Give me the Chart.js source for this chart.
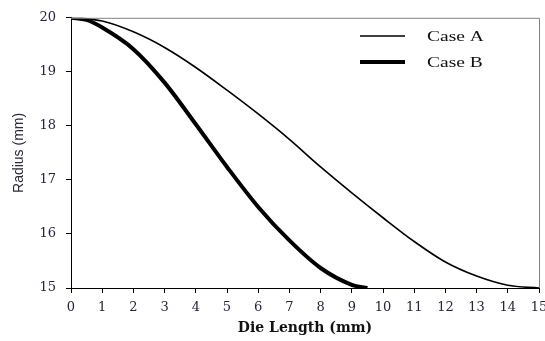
<!DOCTYPE html>
<html>
<head>
<meta charset="utf-8">
<script src="https://cdn.jsdelivr.net/npm/chart.js@4"></script>
<style>
  html, body { margin: 0; padding: 0; background: #fff; }
  #wrap { width: 545px; height: 341px; }
</style>
</head>
<body>
<div id="wrap"><canvas id="dieChart" width="545" height="341"></canvas></div>
<script>
// Values
const caseAX = [0, 1, 2, 3, 4, 5, 6, 7, 8, 9, 10, 11, 12, 13, 14, 15];
const caseAY = [20, 19.94, 19.74, 19.45, 19.08, 18.66, 18.22, 17.75, 17.24, 16.76, 16.3, 15.86, 15.48, 15.22, 15.05, 15.0];
const caseBX = [0, 0.5, 1, 2, 3, 4, 5, 6, 7, 8, 9, 9.5];
const caseBY = [20, 19.96, 19.82, 19.42, 18.8, 18.03, 17.24, 16.5, 15.88, 15.37, 15.06, 15.0];
const seriesLabels = ['Case A', 'Case B'];
const xTicks = [0, 15, 1];   // min, max, step
const yTicks = [15, 20, 1];

const tickFont = { family: 'DejaVu Serif', size: 13 };
const tickColor = '#24243e';

// Function to pair x and y arrays into points
function toPoints(xs, ys) {
    return xs.map((x, i) => ({ x: x, y: ys[i] }));
}

// Legend drawn inside the plot area, like the original
const innerLegend = {
    id: 'innerLegend',
    afterDraw(chart) {
        const ctx = chart.ctx;
        const area = chart.chartArea;
        ctx.save();
        // frame on top and right
        ctx.strokeStyle = '#808080';
        ctx.lineWidth = 1;
        ctx.beginPath();
        ctx.moveTo(area.left, area.top + 0.5);
        ctx.lineTo(area.right + 0.5, area.top + 0.5);
        ctx.lineTo(area.right + 0.5, area.bottom);
        ctx.stroke();

        chart.data.datasets.forEach((ds, i) => {
            const y = 36 + i * 26;
            ctx.strokeStyle = ds.borderColor;
            ctx.lineWidth = ds.borderWidth;
            ctx.beginPath();
            ctx.moveTo(360, y);
            ctx.lineTo(405, y);
            ctx.stroke();
            ctx.save();
            ctx.translate(427, y);
            ctx.scale(1.3, 1);  // original text is stretched sideways
            ctx.fillStyle = '#111';
            ctx.font = '15px "Liberation Serif"';
            ctx.textBaseline = 'middle';
            ctx.fillText(ds.label, 0, 1);
            ctx.restore();
        });
        ctx.restore();
    }
};

const ctx = document.getElementById('dieChart').getContext('2d');
const dieChart = new Chart(ctx, {
    type: 'line',
    data: {
        datasets: [
            {
                label: seriesLabels[0],
                data: toPoints(caseAX, caseAY),
                borderColor: '#000',
                borderWidth: 1.6,
                pointRadius: 0,
                cubicInterpolationMode: 'monotone'
            },
            {
                label: seriesLabels[1],
                data: toPoints(caseBX, caseBY),
                borderColor: '#000',
                borderWidth: 4,
                pointRadius: 0,
                cubicInterpolationMode: 'monotone'
            }
        ]
    },
    options: {
        responsive: false,
        animation: false,
        layout: { padding: { top: 11, right: 6, left: 0, bottom: 0 } },
        scales: {
            x: {
                type: 'linear',
                min: xTicks[0],
                max: xTicks[1],
                afterFit: (scale) => {
                    scale.height = 53;
                    scale.paddingLeft = 0;
                    scale.paddingRight = 0;
                },
                ticks: { stepSize: xTicks[2], color: tickColor, font: tickFont, padding: 7, maxRotation: 0 },
                grid: { drawOnChartArea: false, drawTicks: true, tickLength: 5, color: '#000' },
                border: { color: '#000', width: 1 },
                title: {
                    display: true,
                    text: 'Die Length (mm)',
                    color: '#111',
                    font: { family: 'DejaVu Serif', size: 14, weight: 'bold' },
                    padding: { top: 3 }
                }
            },
            y: {
                min: yTicks[0],
                max: yTicks[1],
                afterFit: (scale) => { scale.width = 71; },
                ticks: { stepSize: yTicks[2], color: tickColor, font: tickFont, padding: 10 },
                grid: { drawOnChartArea: false, drawTicks: true, tickLength: 5, color: '#000' },
                border: { color: '#000', width: 1 },
                title: {
                    display: true,
                    text: 'Radius (mm)',
                    color: '#2a2a3a',
                    font: { family: 'Liberation Sans', size: 14 },
                    padding: { top: 11, bottom: 0 }
                }
            }
        },
        plugins: {
            legend: { display: false },
            tooltip: { enabled: false }
        }
    },
    plugins: [innerLegend]
});
</script>
</body>
</html>
